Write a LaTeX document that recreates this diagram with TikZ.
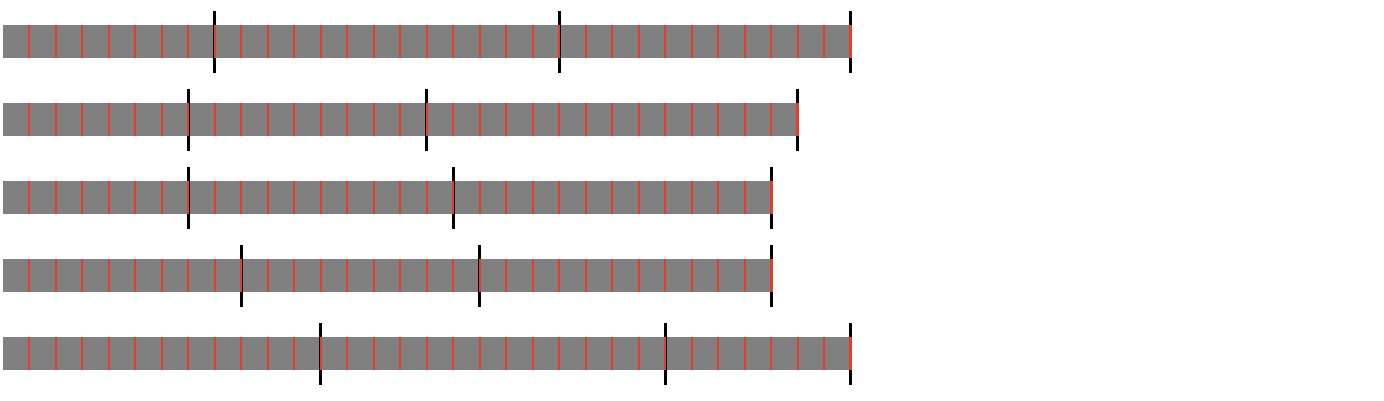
\documentclass[tikz,border=0pt]{standalone}
\definecolor{sepred}{RGB}{228,62,40}
\begin{document}
\begin{tikzpicture}[
    x=0.02cm, y=0.02cm,
    bar/.style={fill=gray},
    split/.style={line width=0.06cm, black},
    cellsep/.style={line width=0.04cm, sepred},
    lastsep/.style={line width=0.06cm, sepred}
  ]
    \useasboundingbox (0,0) rectangle (1384,400);
    % Rows: centre / cells / two split points
    \foreach \y/\n/\a/\b in {358.5/32/8/21, 280.5/30/7/16, 202.5/29/7/17, 124.5/29/9/18, 46.5/32/12/25} {
      \fill[bar] (3.5, \y-16.5) rectangle (2.5+26.5*\n, \y+16.5);
      \foreach \k in {\a,\b,\n}
        \draw[split] (2.5+26.5*\k, \y-31) -- (2.5+26.5*\k, \y+31);
      \pgfmathtruncatemacro{\m}{\n-1}
      \foreach \i in {1,...,\m}
        \draw[cellsep] (2.5+26.5*\i, \y-16.5) -- (2.5+26.5*\i, \y+16.5);
      \draw[lastsep] (2.5+26.5*\n, \y-16.5) -- (2.5+26.5*\n, \y+16.5);
    }
  \end{tikzpicture}
\end{document}
